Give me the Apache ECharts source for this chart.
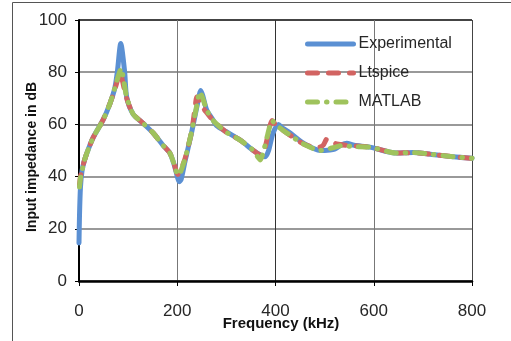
<!DOCTYPE html>
<html>
<head>
<meta charset="utf-8">
<script src="https://cdn.jsdelivr.net/npm/echarts@6/dist/echarts.min.js"></script>
<style>html,body{margin:0;padding:0;background:#fff}#c{width:511px;height:341px}</style>
</head>
<body>
<div id="c"></div>
<script>
// ---- data (frequency in kHz, impedance in dB) ----
const expFreq = [0, 1, 3, 6, 10, 16, 29, 49, 63, 73, 78, 85, 93, 97, 110, 130, 151, 171, 185, 195, 200, 204, 208, 216, 229, 240, 248, 252, 260, 273, 280, 300, 328, 355, 372, 379, 386, 395, 406, 415, 430, 457, 491, 511, 520, 533, 545, 560, 592, 647, 680, 715, 762, 800];
const expDb   = [14.6, 25, 36, 42, 45.5, 49, 55, 61.7, 68, 74, 80, 91, 80, 70.5, 64, 60.5, 56.7, 52, 49, 43.8, 40, 38, 39, 46, 56.7, 66.8, 73, 71, 65.5, 61.7, 59.5, 57.2, 54, 50, 48, 47.6, 50, 56.7, 60, 58.5, 56.7, 52.8, 50, 50.2, 50.5, 52, 52.8, 52, 51.3, 49, 49.2, 48.6, 47.6, 47];

const ltFreq = [1, 3, 6, 10, 16, 29, 49, 63, 73, 80, 84, 88, 97, 110, 130, 151, 171, 185, 195, 201, 206, 216, 229, 236, 240, 245, 252, 260, 273, 300, 328, 355, 366, 372, 380, 388, 393, 400, 415, 430, 457, 485, 497, 505, 512, 525, 545, 592, 647, 680, 715, 762, 800];
const ltDb   = [37, 40, 42.5, 45.5, 49, 55, 61.7, 68, 73.5, 78, 80, 77, 70, 64, 60.5, 56.7, 52, 49, 44, 40.8, 42, 47, 57, 66, 70.5, 69, 66.5, 64.5, 61.5, 57, 54, 50, 48.5, 48, 52, 59, 61.5, 60, 57.8, 55.8, 52.5, 51, 52, 54.5, 53.5, 52.5, 52, 51.3, 49, 49.2, 48.6, 47.6, 47];

const mlFreq = [1, 3, 6, 10, 16, 29, 49, 63, 73, 80, 86, 90, 97, 110, 130, 151, 171, 185, 195, 201, 206, 216, 229, 240, 246, 252, 260, 273, 300, 328, 355, 364, 369, 376, 384, 393, 400, 415, 430, 457, 491, 505, 520, 538, 555, 592, 647, 680, 715, 762, 800];
const mlDb   = [36, 39.5, 42, 45.5, 49, 55, 61.7, 68, 74, 78.5, 81.5, 78, 70.5, 64, 60.5, 56.7, 52, 49, 44, 40.6, 41.5, 47, 57, 67.5, 72.5, 70, 65.5, 61.5, 57, 54, 50, 47.5, 46.4, 50, 56, 61.5, 60, 57.8, 55.8, 52.5, 50, 50.5, 51.2, 52, 51.5, 51.3, 49, 49.2, 48.6, 47.6, 47];

const seriesNames = ['Experimental', 'Ltspice', 'MATLAB'];
const xName = 'Frequency (kHz)';
const yName = 'Input impedance in dB';

const pairs = (xs, ys) => xs.map((x, i) => [x, ys[i]]);

const chart = echarts.init(document.getElementById('c'), null, {renderer: 'canvas'});
const font = 'Liberation Sans, Arial, sans-serif';
chart.setOption({
  animation: false,
  backgroundColor: '#fff',
  textStyle: {fontFamily: font},
  graphic: [{
    type: 'rect', silent: true,
    shape: {x: 12.5, y: 2.5, width: 600, height: 400},
    style: {fill: 'none', stroke: '#555', lineWidth: 1}
  }],
  grid: {left: 79, right: 39, top: 20, bottom: 60, containLabel: false, outerBoundsMode: 'none'},
  legend: {
    orient: 'vertical', left: 300, top: 31,
    itemWidth: 46, itemHeight: 14, itemGap: 13,
    itemStyle: {opacity: 0},
    lineStyle: {width: 5, cap: 'round'},
    textStyle: {fontSize: 16, lineHeight: 14, color: '#262626', fontFamily: font},
    data: seriesNames
  },
  xAxis: {
    type: 'value', min: 0, max: 800, interval: 200,
    name: xName, nameLocation: 'middle', nameGap: 35, nameMoveOverlap: false,
    nameTextStyle: {fontSize: 15, fontWeight: 'bold', color: '#111', padding: [0, 0, 0, 11]},
    axisLine: {show: true, lineStyle: {color: '#000', width: 2.5}},
    axisTick: {show: true, length: 5, lineStyle: {color: '#000', width: 1}},
    axisLabel: {fontSize: 17, color: '#262626', margin: 22},
    splitLine: {show: true, lineStyle: {color: ['#666', '#777', '#333', '#777', '#444'], width: 1}}
  },
  yAxis: {
    type: 'value', min: 0, max: 100, interval: 20,
    name: yName, nameLocation: 'middle', nameGap: 40, nameMoveOverlap: false,
    nameTextStyle: {fontSize: 14, fontWeight: 'bold', color: '#111', padding: [0, 0, 0, -13]},
    axisLine: {show: true, lineStyle: {color: '#000', width: 2}},
    axisTick: {show: true, length: 4, lineStyle: {color: '#000', width: 1}},
    axisLabel: {fontSize: 17, color: '#262626', margin: 12},
    splitLine: {show: true, lineStyle: {color: ['#999', '#999', '#999', '#999', '#999', '#444'], width: 2}}
  },
  series: [
    {
      name: seriesNames[0], type: 'line', data: pairs(expFreq, expDb),
      symbol: 'none', smooth: 0.25, z: 2,
      color: '#5b90d3',
      lineStyle: {color: '#5b90d3', width: 5, cap: 'round', join: 'round'}
    },
    {
      name: seriesNames[1], type: 'line', data: pairs(ltFreq, ltDb),
      symbol: 'none', smooth: 0.25, z: 3,
      color: '#d26462',
      lineStyle: {color: '#d26462', width: 5, type: [10, 11], cap: 'round', join: 'round'}
    },
    {
      name: seriesNames[2], type: 'line', data: pairs(mlFreq, mlDb),
      symbol: 'none', smooth: 0.25, z: 4,
      color: '#9fc35d',
      lineStyle: {color: '#9fc35d', width: 5, type: [10, 9, 0.5, 9], cap: 'round', join: 'round'}
    }
  ]
});
</script>
</body>
</html>
